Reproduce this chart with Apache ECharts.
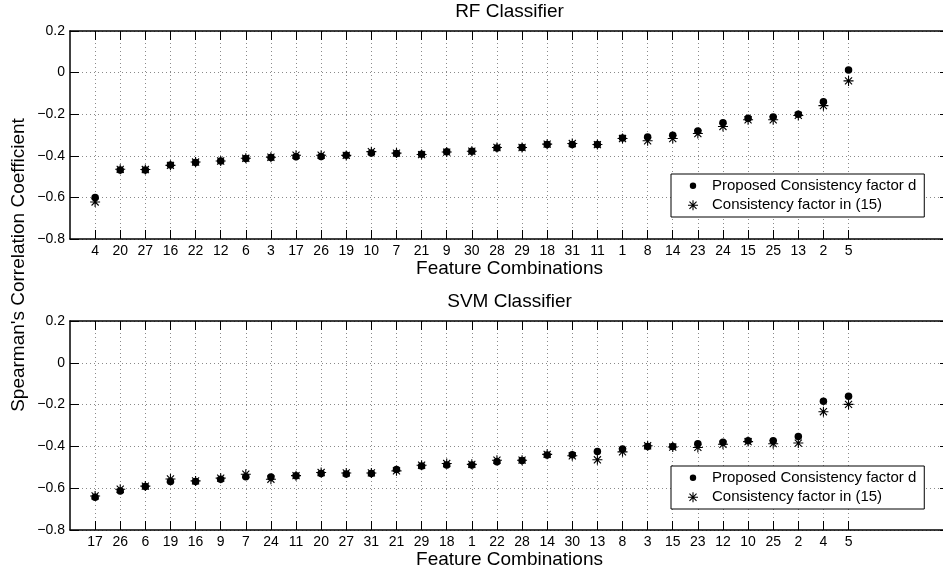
<!DOCTYPE html>
<html>
<head>
<meta charset="utf-8">
<script src="https://cdn.jsdelivr.net/npm/echarts@6/dist/echarts.min.js"></script>
<style>
html,body{margin:0;padding:0;background:#fff;}
#chart{width:943px;height:571px;}
</style>
</head>
<body>
<div id="chart"></div>
<script>
// ---- data ----
const rfCategories = ['4','20','27','16','22','12','6','3','17','26','19','10','7','21','9','30','28','29','18','31','11','1','8','14','23','24','15','25','13','2','5'];
const rfProposed = [-0.600,-0.468,-0.468,-0.444,-0.432,-0.425,-0.413,-0.408,-0.405,-0.403,-0.397,-0.387,-0.389,-0.392,-0.381,-0.378,-0.362,-0.360,-0.346,-0.346,-0.346,-0.314,-0.310,-0.301,-0.281,-0.241,-0.219,-0.213,-0.200,-0.140,0.013];
const rfPrior    = [-0.622,-0.465,-0.466,-0.446,-0.430,-0.425,-0.412,-0.407,-0.397,-0.397,-0.398,-0.380,-0.387,-0.394,-0.382,-0.378,-0.360,-0.360,-0.344,-0.341,-0.346,-0.317,-0.328,-0.317,-0.293,-0.259,-0.227,-0.227,-0.206,-0.159,-0.040];

const svmCategories = ['17','26','6','19','16','9','7','24','11','20','27','31','21','29','18','1','22','28','14','30','13','8','3','15','23','12','10','25','2','4','5'];
const svmProposed = [-0.643,-0.613,-0.592,-0.568,-0.568,-0.557,-0.545,-0.546,-0.541,-0.530,-0.532,-0.530,-0.510,-0.494,-0.489,-0.489,-0.473,-0.468,-0.441,-0.440,-0.424,-0.413,-0.400,-0.400,-0.387,-0.380,-0.373,-0.373,-0.353,-0.184,-0.160];
const svmPrior    = [-0.637,-0.605,-0.590,-0.556,-0.565,-0.552,-0.533,-0.557,-0.540,-0.525,-0.527,-0.527,-0.517,-0.490,-0.482,-0.486,-0.466,-0.466,-0.438,-0.445,-0.464,-0.426,-0.397,-0.403,-0.405,-0.390,-0.377,-0.387,-0.384,-0.234,-0.199];

const yTicks = [-0.8, -0.6, -0.4, -0.2, 0, 0.2];
const seriesNames = ['Proposed Consistency factor d', 'Consistency factor in (15)'];
const titles = ['RF Classifier', 'SVM Classifier'];
const xName = 'Feature Combinations';
const yName = "Spearman's Correlation Coefficient";

// ---- styling ----
const FONT = '"Liberation Sans", Arial, Helvetica, sans-serif';
const STAR = 'path://M-0.55,-5L0.55,-5L0.55,5L-0.55,5Z' +
  'M-5,-0.55L5,-0.55L5,0.55L-5,0.55Z' +
  'M-3.147,-3.925L3.925,3.147L3.147,3.925L-3.925,-3.147Z' +
  'M-3.925,3.147L3.147,-3.925L3.925,-3.147L-3.147,3.925Z';
const CORNERS = 'M-14,-5L-13.99,-5L-13.99,-4.99Z M14,5L13.99,5L13.99,4.99Z';
const LEG_DOT = 'path://' + CORNERS + ' M0,-3.2A3.2,3.2 0 1 1 0,3.2A3.2,3.2 0 1 1 0,-3.2Z';
const LEG_STAR = 'path://' + CORNERS + STAR.slice(7);

const axisData = cats => ['', ...cats, '', '', '', ''];
const showCat = (i, v) => v !== '';

const grids = [
  {left: 70, top: 31, width: 879, height: 208, outerBoundsMode: 'none', containLabel: false},
  {left: 70, top: 321, width: 879, height: 209, outerBoundsMode: 'none', containLabel: false}
];

function bottomX(gi, cats) {
  return {
    type: 'category', gridIndex: gi, data: axisData(cats), boundaryGap: false, position: 'bottom',
    axisLine: {show: true, onZero: false, lineStyle: {color: '#000', width: 1.5}},
    axisTick: {show: true, inside: true, length: 9, interval: showCat, lineStyle: {color: '#000', width: 1}},
    axisLabel: {show: true, interval: 0, color: '#000', fontSize: 14, fontFamily: FONT, margin: 5},
    splitLine: {show: true, interval: showCat, lineStyle: {color: '#8a8a8a', width: 1, type: [1, 3]}},
    name: xName, nameLocation: 'middle', nameGap: 20,
    nameTextStyle: {color: '#000', fontSize: 19, fontFamily: FONT}
  };
}
function topX(gi, cats) {
  return {
    type: 'category', gridIndex: gi, data: axisData(cats), boundaryGap: false, position: 'top',
    axisLine: {show: true, onZero: false, lineStyle: {color: '#000', width: 1.5}},
    axisTick: {show: true, inside: true, length: 9, interval: showCat, lineStyle: {color: '#000', width: 1}},
    axisLabel: {show: false}, splitLine: {show: false}
  };
}
function leftY(gi) {
  return {
    type: 'value', gridIndex: gi, min: yTicks[0], max: yTicks[yTicks.length - 1], interval: 0.2, position: 'left',
    axisLine: {show: true, onZero: false, lineStyle: {color: '#000', width: 1.5}},
    axisTick: {show: true, inside: true, length: 9, lineStyle: {color: '#000', width: 1}},
    axisLabel: {show: true, color: '#000', fontSize: 14, fontFamily: FONT, margin: 5,
      formatter: v => { const r = Math.round(v * 10) / 10; return r === 0 ? '0' : String(r).replace('-', '\u2212'); }},
    splitLine: {show: true, lineStyle: {color: '#8a8a8a', width: 1, type: [1, 3]}}
  };
}
function rightY(gi) {
  return {
    type: 'value', gridIndex: gi, min: yTicks[0], max: yTicks[yTicks.length - 1], interval: 0.2, position: 'right',
    axisLine: {show: true, onZero: false, lineStyle: {color: '#000', width: 1.5}},
    axisTick: {show: true, inside: true, length: 9, lineStyle: {color: '#000', width: 1}},
    axisLabel: {show: false}, splitLine: {show: false}
  };
}
const toPoints = vals => vals.map((v, i) => [i + 1, v]);

function legendAt(top) {
  return {
    orient: 'vertical', left: 671, top: top,
    padding: [4.25, 8, 4.25, 8], itemGap: 4.5, itemWidth: 28, itemHeight: 10,
    borderColor: '#000', borderWidth: 1, backgroundColor: '#fff',
    selectedMode: false,
    itemStyle: {opacity: 1},
    textStyle: {color: '#000', fontSize: 15, fontFamily: FONT, lineHeight: 15},
    data: [{name: seriesNames[0], icon: LEG_DOT}, {name: seriesNames[1], icon: LEG_STAR}]
  };
}

const dotStyle = {color: '#000', opacity: 1};

const option = {
  animation: false,
  backgroundColor: '#fff',
  title: [
    {text: titles[0], left: 509.5, top: 2, textAlign: 'center', padding: 0,
     textStyle: {color: '#000', fontSize: 19, fontWeight: 'normal', fontFamily: FONT}},
    {text: titles[1], left: 509.5, top: 292, textAlign: 'center', padding: 0,
     textStyle: {color: '#000', fontSize: 19, fontWeight: 'normal', fontFamily: FONT}}
  ],
  grid: grids,
  xAxis: [bottomX(0, rfCategories), topX(0, rfCategories), bottomX(1, svmCategories), topX(1, svmCategories)],
  yAxis: [leftY(0), rightY(0), leftY(1), rightY(1)],
  legend: [legendAt(174), legendAt(466)],
  graphic: [{
    type: 'text', x: 18.5, y: 265, rotation: Math.PI / 2,
    style: {text: yName, fill: '#000', font: '19px ' + FONT, align: 'center', verticalAlign: 'middle'}
  }],
  series: [
    {name: seriesNames[0], type: 'scatter', xAxisIndex: 0, yAxisIndex: 0, data: toPoints(rfProposed),
     symbol: 'circle', symbolSize: 7.5, itemStyle: dotStyle},
    {name: seriesNames[1], type: 'scatter', xAxisIndex: 0, yAxisIndex: 0, data: toPoints(rfPrior),
     symbol: STAR, symbolSize: 10, itemStyle: dotStyle},
    {name: seriesNames[0], type: 'scatter', xAxisIndex: 2, yAxisIndex: 2, data: toPoints(svmProposed),
     symbol: 'circle', symbolSize: 7.5, itemStyle: dotStyle},
    {name: seriesNames[1], type: 'scatter', xAxisIndex: 2, yAxisIndex: 2, data: toPoints(svmPrior),
     symbol: STAR, symbolSize: 10, itemStyle: dotStyle}
  ]
};

const chart = echarts.init(document.getElementById('chart'), null, {renderer: 'canvas'});
chart.setOption(option);
</script>
</body>
</html>
